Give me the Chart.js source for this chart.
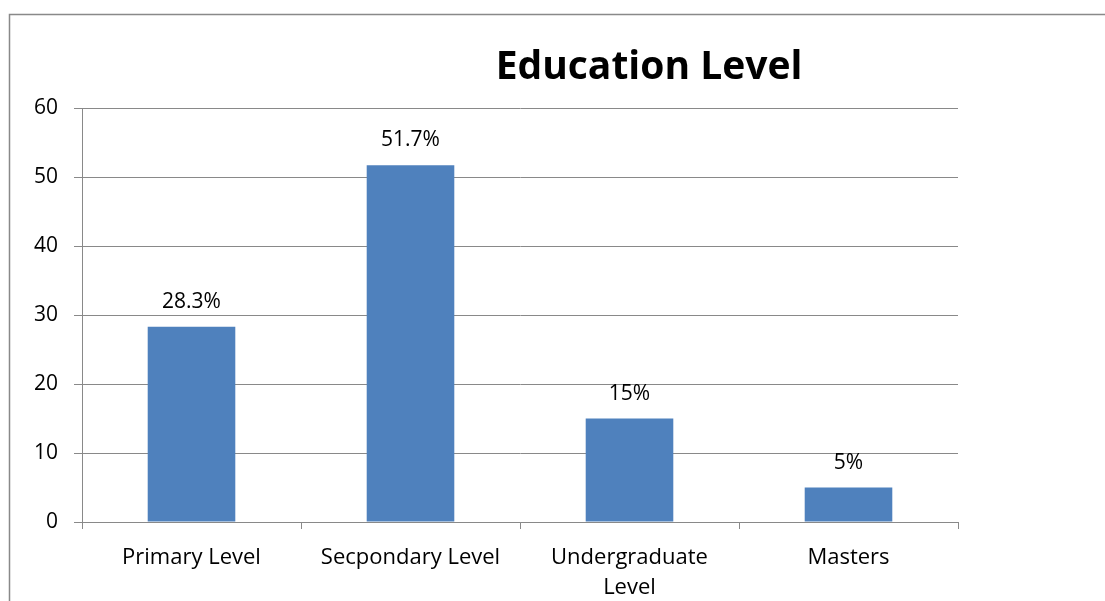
<!DOCTYPE html>
<html>
<head>
<meta charset="utf-8">
<script src="https://cdn.jsdelivr.net/npm/chart.js@4/dist/chart.umd.min.js"></script>
<style>
  html, body { margin: 0; padding: 0; background: #fff; }
  #wrap { width: 1105px; height: 601px; position: relative; }
</style>
</head>
<body>
<div id="wrap"><canvas id="chart" width="1105" height="601"></canvas></div>
<script>
// Chart data
const categories = ['Primary Level', 'Secpondary Level', ['Undergraduate', 'Level'], 'Masters'];
const values = [28.3, 51.7, 15, 5];
const valueLabels = ['28.3%', '51.7%', '15%', '5%'];
const yTicks = [0, 10, 20, 30, 40, 50, 60];

const FONT = "'Open Sans', 'Liberation Sans', sans-serif";
const GRID = '#898989';

// Outer frame (left and top edges only are visible)
const framePlugin = {
  id: 'frame',
  beforeDraw(chart) {
    const ctx = chart.ctx;
    ctx.save();
    ctx.strokeStyle = GRID;
    ctx.lineWidth = 1.5;
    ctx.beginPath();
    ctx.moveTo(9.5, chart.height + 2);
    ctx.lineTo(9.5, 14.5);
    ctx.lineTo(chart.width + 2, 14.5);
    ctx.stroke();
    ctx.restore();
  }
};

// Title drawn by hand so it sits where the original does
const titlePlugin = {
  id: 'customTitle',
  afterDraw(chart) {
    const ctx = chart.ctx;
    ctx.save();
    ctx.font = "bold 39px " + FONT;
    ctx.fillStyle = '#000';
    ctx.textAlign = 'center';
    ctx.textBaseline = 'alphabetic';
    ctx.fillText('Education Level', 649, 79);
    ctx.restore();
  }
};

// Value labels above each bar
const valueLabelPlugin = {
  id: 'valueLabels',
  afterDatasetsDraw(chart) {
    const ctx = chart.ctx;
    const meta = chart.getDatasetMeta(0);
    ctx.save();
    ctx.font = "21px " + FONT;
    ctx.fillStyle = '#000';
    ctx.textAlign = 'center';
    ctx.textBaseline = 'alphabetic';
    meta.data.forEach((bar, i) => {
      ctx.fillText(valueLabels[i], bar.x, bar.y - 19);
    });
    ctx.restore();
  }
};

new Chart(document.getElementById('chart'), {
  type: 'bar',
  data: {
    labels: categories,
    datasets: [{
      data: values,
      backgroundColor: '#4F81BD',
      borderWidth: 0,
      barPercentage: 0.4,
      categoryPercentage: 1
    }]
  },
  options: {
    responsive: false,
    animation: false,
    events: [],
    layout: { padding: { top: 108, right: 147, left: 0, bottom: 0 } },
    plugins: {
      legend: { display: false },
      title: { display: false },
      tooltip: { enabled: false }
    },
    scales: {
      x: {
        offset: true,
        afterFit(scale) { scale.height = 79; },
        border: { display: true, color: GRID, width: 1 },
        grid: {
          offset: true,
          drawOnChartArea: false,
          drawTicks: true,
          tickLength: 7,
          color: GRID
        },
        ticks: {
          color: '#000',
          font: { family: FONT, size: 22, lineHeight: 1.4 },
          padding: 13,
          maxRotation: 0,
          autoSkip: false
        }
      },
      y: {
        min: 0,
        max: 60,
        afterFit(scale) { scale.width = 82; },
        afterBuildTicks(scale) { scale.ticks = yTicks.map(v => ({ value: v })); },
        border: { display: true, color: GRID, width: 1 },
        grid: {
          color: GRID,
          lineWidth: 1,
          drawTicks: true,
          tickLength: 8
        },
        ticks: {
          color: '#000',
          font: { family: FONT, size: 21 },
          padding: 16
        }
      }
    }
  },
  plugins: [framePlugin, titlePlugin, valueLabelPlugin]
});
</script>
</body>
</html>
